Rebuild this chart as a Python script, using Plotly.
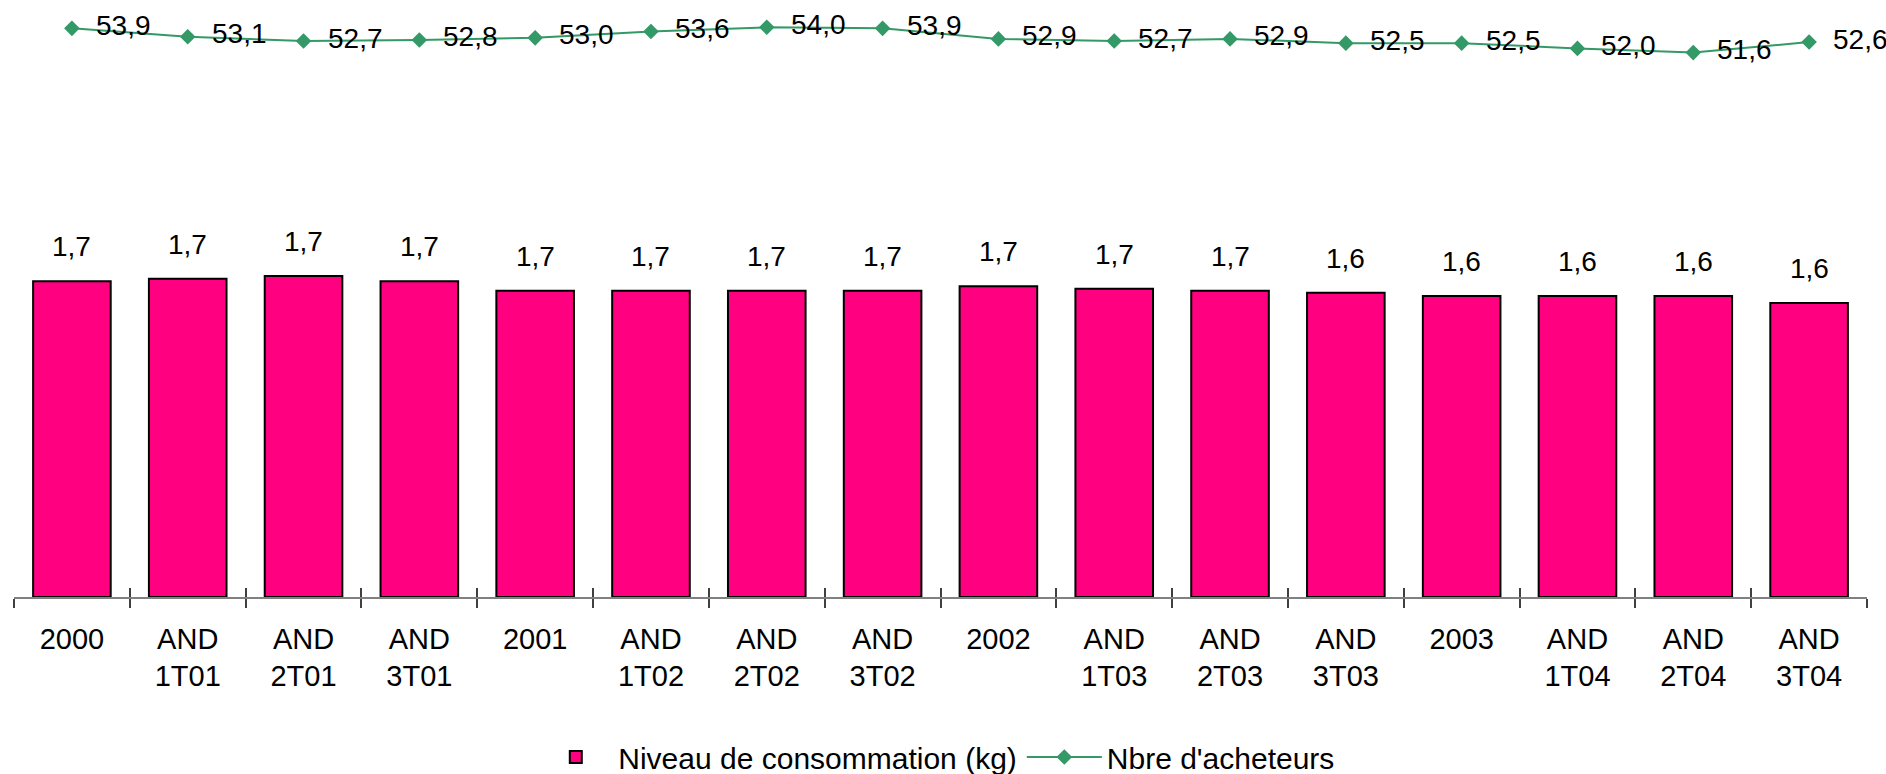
import plotly.graph_objects as go

# Periods (two-line category labels)
periods = ["2000", "AND<br>1T01", "AND<br>2T01", "AND<br>3T01",
           "2001", "AND<br>1T02", "AND<br>2T02", "AND<br>3T02",
           "2002", "AND<br>1T03", "AND<br>2T03", "AND<br>3T03",
           "2003", "AND<br>1T04", "AND<br>2T04", "AND<br>3T04"]

# Consumption level (kg) per buyer
consommation = [1.705, 1.719, 1.733, 1.705, 1.654, 1.654, 1.654, 1.654,
                1.678, 1.665, 1.653, 1.643, 1.625, 1.625, 1.625, 1.588]

# Number of buyers
acheteurs = [53.9, 53.1, 52.7, 52.8, 53.0, 53.6, 54.0, 53.9,
             52.9, 52.7, 52.9, 52.5, 52.5, 52.0, 51.6, 52.6]

BAR_COLOR = "#FF0080"
LINE_COLOR = "#339966"
FONT = "Liberation Sans, Arial, sans-serif"
FS_LABEL = 28
FS_AXIS = 29
FS_LEGEND = 30


def fr(v):
    return f"{v:.1f}".replace(".", ",")


fig = go.Figure()

fig.add_trace(go.Bar(
    x=periods, y=consommation,
    name="Niveau de consommation (kg)",
    marker=dict(color=BAR_COLOR, line=dict(color="black", width=2)),
    xaxis="x", yaxis="y",
))

fig.add_trace(go.Scatter(
    x=periods, y=acheteurs,
    name="Nbre d'acheteurs",
    mode="lines+markers",
    line=dict(color=LINE_COLOR, width=2),
    marker=dict(symbol="diamond", size=12, color=LINE_COLOR),
    xaxis="x2", yaxis="y2",
))

# Value labels; category positions are given by index so that
# year-like names such as "2000" are not read as numbers
annotations = []
for i, v in enumerate(consommation):
    annotations.append(dict(
        x=i, y=v, xref="x", yref="y", text=fr(v), showarrow=False,
        xanchor="center", yanchor="bottom", yshift=17,
        font=dict(family=FONT, size=FS_LABEL, color="black"),
    ))
for i, v in enumerate(acheteurs):
    annotations.append(dict(
        x=i, y=v, xref="x2", yref="y2", text=fr(v), showarrow=False,
        xanchor="left", yanchor="middle", xshift=22, yshift=3,
        font=dict(family=FONT, size=FS_LABEL, color="black"),
    ))

cat_axis = dict(
    type="category", categoryorder="array", categoryarray=periods,
    range=[-0.5, len(periods) - 0.5], tickson="boundaries",
    showgrid=False, zeroline=False, automargin=False,
)

fig.update_layout(
    width=1886, height=774,
    margin=dict(l=14, r=19, t=0, b=177, autoexpand=False),
    paper_bgcolor="white", plot_bgcolor="white",
    font=dict(family=FONT, size=FS_AXIS, color="black"),
    bargap=0.33,
    xaxis=dict(
        **cat_axis,
        showline=True, linecolor="#808080", linewidth=1.5,
        ticks="outside", ticklen=9, tickwidth=1.5, tickcolor="#404040",
        tickfont=dict(family=FONT, size=FS_AXIS, color="black"),
        ticklabelstandoff=15,
    ),
    xaxis2=dict(
        **cat_axis, overlaying="x", anchor="y2", side="bottom",
        showline=False, showticklabels=False,
        ticks="inside", ticklen=9, tickwidth=1.5, tickcolor="#404040",
    ),
    yaxis=dict(range=[0, 597 / 185.2], visible=False, fixedrange=True),
    yaxis2=dict(range=[0, 597 / 10.55], overlaying="y", visible=False),
    legend=dict(
        orientation="h", x=0.498, xanchor="center",
        yref="container", y=0.022, yanchor="middle",
        font=dict(family=FONT, size=FS_LEGEND, color="black"),
        bgcolor="rgba(0,0,0,0)", itemwidth=75,
    ),
    annotations=annotations,
)

fig.write_html("out.html")
